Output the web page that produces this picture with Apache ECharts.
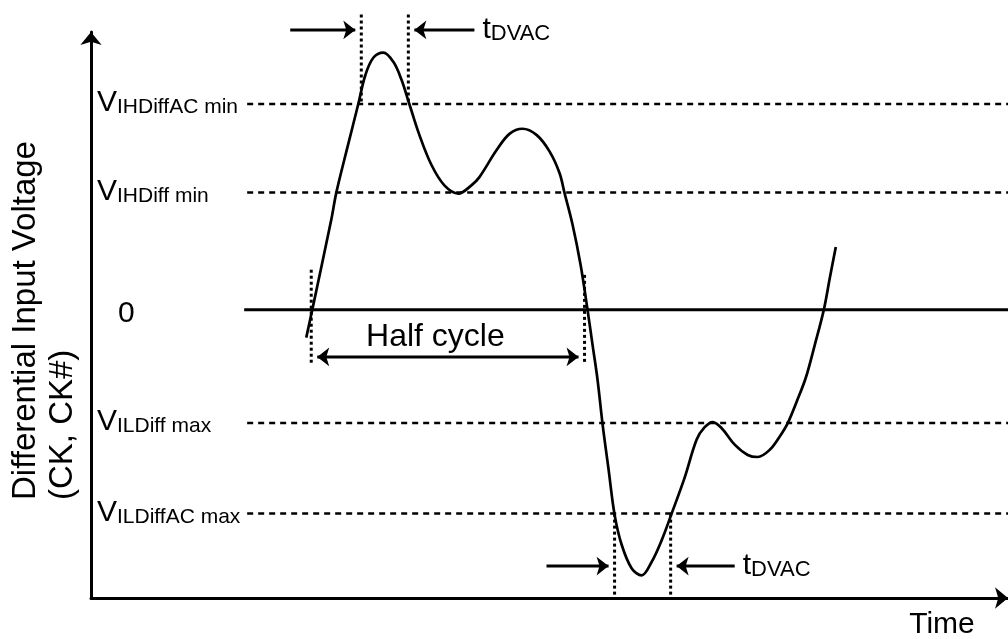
<!DOCTYPE html>
<html><head><meta charset="utf-8">
<script src="https://cdn.jsdelivr.net/npm/echarts@6/dist/echarts.min.js"></script>
<style>html,body{margin:0;padding:0;background:#fff}#chart{width:1008px;height:639px}</style>
</head><body><div id="chart"></div>
<script>
// Waveform: [time, differential voltage]
const waveform = [
  [21.5,-0.27],[22.1,0],[24.0,0.875],[24.5,1.137],[25.6,1.574],[26.7,2.0],[27.4,2.28],[28.2,2.45],
  [29.2,2.50],[30.2,2.41],[31.0,2.24],[31.8,2.0],[32.8,1.70],[34.0,1.41],[35.3,1.21],[36.7,1.13],
  [38.0,1.21],[38.8,1.29],[40.5,1.55],[41.8,1.71],[43.1,1.76],[44.5,1.70],[45.8,1.54],[46.8,1.33],
  [47.3,1.137],[48.1,0.83],[48.9,0.44],[49.6,0],[50.1,-0.34],[50.6,-0.68],[51.1,-1.11],[51.7,-1.55],
  [52.3,-1.99],[53.0,-2.28],[54.0,-2.51],[55.0,-2.58],[56.0,-2.45],[57.0,-2.24],[58.0,-1.98],
  [59.3,-1.63],[60.5,-1.26],[61.3,-1.14],[62.1,-1.09],[63.0,-1.15],[64.3,-1.31],[65.6,-1.41],
  [66.6,-1.43],[67.8,-1.36],[68.8,-1.23],[69.6,-1.10],[70.5,-0.89],[71.4,-0.66],[72.3,-0.34],
  [73.2,0],[73.8,0.31],[74.4,0.61]
];
const levelMain = ['V', 'V', '0', 'V', 'V'];
const levelSub = ['IHDiffAC min', 'IHDiff min', '', 'ILDiff max', 'ILDiffAC max'];
const levelValues = [2.0, 1.14, 0, -1.1, -1.98];
const levelStart = 15.6;
const zeroStart = 15.3;
const timeEnd = 91.6;
const tDVACHigh = [27.0, 31.7];
const tDVACLow = [52.3, 57.9];
const halfCycle = [22.0, 49.3];
const tDVACLabel = 'tDVAC';
const halfCycleLabel = 'Half cycle';
const halfCycleLabelTime = 34.4;
const yTitle = 'Differential Input Voltage\n(CK, CK#)';
const xTitle = 'Time';

const FONT = 'Liberation Sans, Arial, sans-serif';
const BLACK = '#000';
const series = [];

levelValues.forEach((v, i) => {
  const isZero = levelMain[i] === '0';
  series.push({
    type: 'line', silent: true, symbol: 'none', clip: false,
    data: [[isZero ? zeroStart : levelStart, v], [timeEnd, v]],
    lineStyle: { color: BLACK, width: isZero ? 3 : 2.5, type: isZero ? 'solid' : [6, 5] }
  });
});

series.push({
  type: 'line', silent: true, symbol: 'none', smooth: 0.35, clip: false,
  data: waveform, lineStyle: { color: BLACK, width: 2.7 }
});

function dotted(x, y1, y2) {
  series.push({
    type: 'line', silent: true, symbol: 'none', clip: false,
    data: [[x, y1], [x, y2]], lineStyle: { color: BLACK, width: 3, type: [3, 3] }
  });
}
dotted(tDVACHigh[0], 2.87, 2.0);
dotted(tDVACHigh[1], 2.87, 2.0);
dotted(halfCycle[0], 0.39, -0.53);
dotted(halfCycle[1], 0.34, -0.53);
dotted(tDVACLow[0], -1.98, -2.8);
dotted(tDVACLow[1], -1.98, -2.8);

function tip(x, y, rot) {
  return { value: [x, y], symbol: 'arrow', symbolSize: [14, 12], symbolRotate: rot };
}
function plain(x, y) { return { value: [x, y], symbol: 'none' }; }
function arrow(pts) {
  series.push({
    type: 'line', silent: true, symbol: 'none', showSymbol: true, clip: false,
    itemStyle: { color: BLACK, opacity: 1 }, lineStyle: { color: BLACK, width: 3 }, data: pts
  });
}
const yTop = 2.72, yHalf = -0.457, yLow = -2.49;
arrow([plain(tDVACHigh[0] - 7.1, yTop), tip(tDVACHigh[0] - 0.6, yTop, -90)]);
arrow([plain(tDVACHigh[1] + 6.6, yTop), tip(tDVACHigh[1] + 0.6, yTop, 90)]);
arrow([tip(halfCycle[0] + 0.6, yHalf, 90), tip(halfCycle[1] - 0.6, yHalf, -90)]);
arrow([plain(tDVACLow[0] - 6.8, yLow), tip(tDVACLow[0] - 0.6, yLow, -90)]);
arrow([plain(tDVACLow[1] + 6.4, yLow), tip(tDVACLow[1] + 0.6, yLow, 90)]);

const tRich = {
  t: { fontSize: 30, fontFamily: FONT, color: BLACK, verticalAlign: 'bottom', lineHeight: 30 },
  s: { fontSize: 22, fontFamily: FONT, color: BLACK, verticalAlign: 'bottom', lineHeight: 30 }
};
function tdvacText() { return '{t|' + tDVACLabel.charAt(0) + '}{s|' + tDVACLabel.slice(1) + '}'; }
series.push({
  type: 'scatter', silent: true, clip: false, symbolSize: 0, itemStyle: { color: BLACK, opacity: 1 },
  data: [
    { value: [tDVACHigh[1] + 7.2, yTop], label: { show: true, position: 'right', distance: 2, formatter: tdvacText, rich: tRich } },
    { value: [halfCycleLabelTime, -0.27], label: { show: true, position: 'inside', formatter: halfCycleLabel, fontSize: 32, fontFamily: FONT, color: BLACK } },
    { value: [tDVACLow[1] + 7.0, yLow], label: { show: true, position: 'right', distance: 2, formatter: tdvacText, rich: tRich } }
  ]
});

const chart = echarts.init(document.getElementById('chart'), null, { renderer: 'canvas' });
chart.setOption({
  animation: false,
  backgroundColor: '#fff',
  grid: { left: 91, right: 0, top: 32, bottom: 41, containLabel: false, outerBoundsMode: 'none' },
  xAxis: {
    type: 'value', min: 0, max: timeEnd,
    axisLine: { show: true, onZero: false, symbol: ['none', 'arrow'], symbolSize: [16, 13], lineStyle: { color: BLACK, width: 3 } },
    axisTick: { show: false }, axisLabel: { show: false }, splitLine: { show: false },
    name: xTitle, nameLocation: 'end', nameGap: -66, nameMoveOverlap: false,
    nameTextStyle: { fontSize: 30, fontFamily: FONT, color: BLACK, align: 'center', verticalAlign: 'top', padding: [12, 0, 0, 0] }
  },
  yAxis: {
    type: 'value', min: -2.8, max: 2.7,
    axisLine: { show: true, onZero: false, symbol: ['none', 'arrow'], symbolSize: [16, 13], lineStyle: { color: BLACK, width: 3 } },
    axisTick: { show: false }, splitLine: { show: false },
    axisLabel: {
      show: true, inside: true, margin: 6, customValues: levelValues,
      formatter: function (val) {
        let i = levelValues.findIndex(v => Math.abs(v - val) < 1e-6);
        if (i < 0) return '';
        if (levelMain[i] === '0') return '{z|0}';
        return '{v|' + levelMain[i] + '}{s|' + levelSub[i] + '}';
      },
      rich: {
        v: { fontSize: 30, fontFamily: FONT, color: BLACK, verticalAlign: 'bottom', lineHeight: 28 },
        s: { fontSize: 21, fontFamily: FONT, color: BLACK, verticalAlign: 'bottom', lineHeight: 28 },
        z: { fontSize: 30, fontFamily: FONT, color: BLACK, padding: [8, 0, 0, 21], lineHeight: 28 }
      }
    },
    name: yTitle, nameLocation: 'start', nameRotate: 90, nameGap: -98, nameMoveOverlap: false,
    nameTextStyle: { fontSize: 33, lineHeight: 37, fontFamily: FONT, color: BLACK, align: 'left', verticalAlign: 'bottom', padding: [0, 0, 10, 0] }
  },
  series: series
});
</script></body></html>
